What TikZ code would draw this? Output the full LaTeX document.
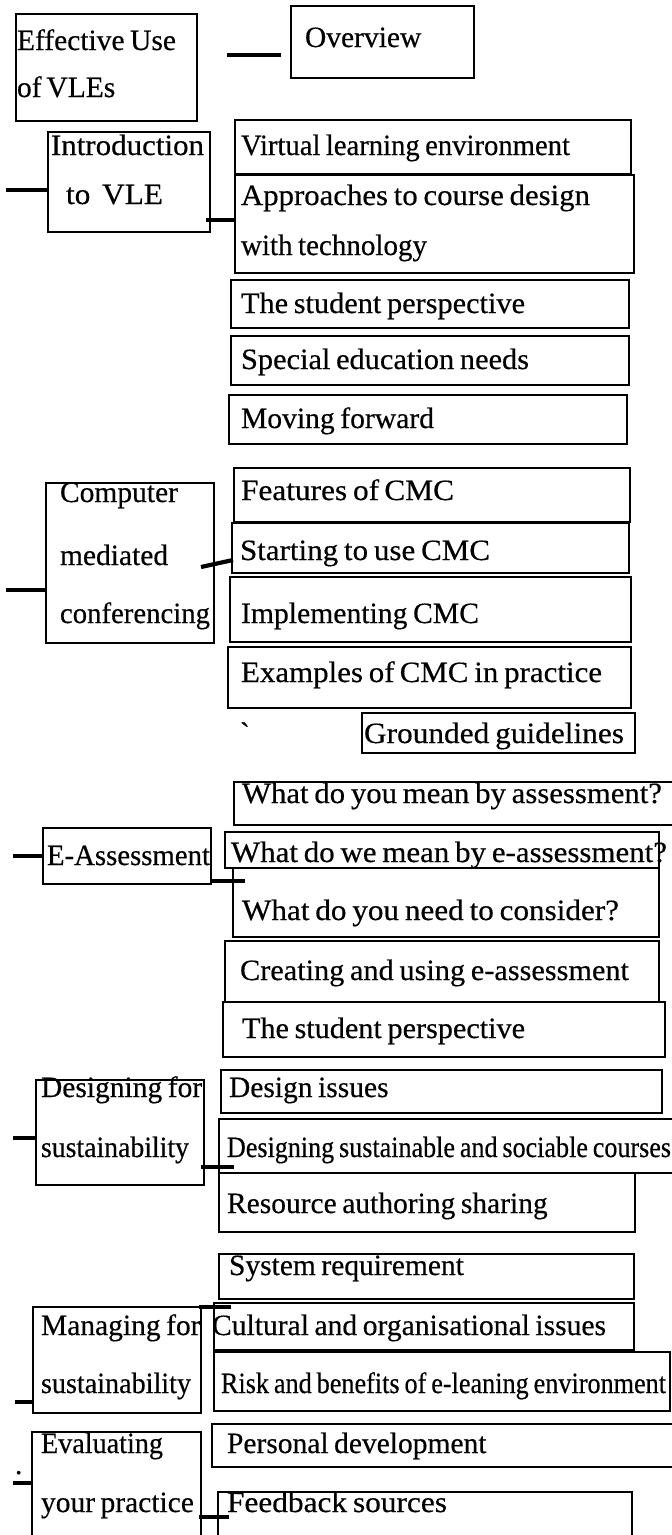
\documentclass[tikz,border=0pt]{standalone}
\usepackage{fontspec}
\usepackage{graphicx}
\setmainfont{Liberation Serif}[WordSpace=0.75,FakeBold=0.4]
\usetikzlibrary{fit}
\begin{document}
\begin{tikzpicture}[x=1pt,y=-1pt,
  box/.style={draw=black, line width=2.7pt, inner sep=0pt, outer sep=0pt},
  txt/.style={anchor=base west, inner sep=0pt, outer sep=0pt, font=\fontsize{29.5}{35}\selectfont},
  stub/.style={draw=black, line width=4.2pt}]
\useasboundingbox (0,0) rectangle (672,1535);
\fill[white] (0,0) rectangle (672,1535);
% box given by its corners: name, x1, y1, x2, y2
\newcommand\bx[5]{\node[box, fit={(#2,#3)(#4,#5)}] (#1) {};}
% text set to a given width, height kept
\newcommand\wtext[2]{\resizebox{#1pt}{\height}{#2}}

% ---- boxes ----
\bx{eff}{16}{14}{197}{121}
\bx{ovw}{291}{6}{474}{78}
\bx{intro}{48}{132}{210}{232}
\bx{vle}{235}{120}{631}{174}
\bx{appr}{235}{175}{634}{273}
\bx{studa}{231}{280}{629}{328}
\bx{sen}{231}{336}{629}{385}
\bx{move}{229}{395}{627}{444}
\bx{feat}{234}{468}{630}{522}
\bx{cmc}{46}{483}{214}{643}
\bx{start}{232}{523}{629}{573}
\bx{impl}{230}{577}{631}{642}
\bx{exam}{228}{647}{631}{708}
\bx{grnd}{362}{713}{635}{753}
\bx{wdyma}{234}{782}{674}{825}
\bx{eass}{43}{828}{211}{884}
\bx{wdwme}{225}{832}{659}{868}
\bx{need}{233}{868}{659}{937}
\bx{creat}{225}{941}{659}{1002}
\bx{studb}{223}{1002}{665}{1057}
\bx{dissue}{221}{1070}{662}{1113}
\bx{dfor}{36}{1080}{204}{1185}
\bx{dsust}{219}{1119}{674}{1173}
\bx{resrc}{219}{1173}{635}{1232}
\bx{sysreq}{219}{1254}{634}{1299}
\bx{mfor}{33}{1307}{201}{1413}
\bx{cult}{214}{1303}{634}{1350}
\bx{risk}{214}{1352}{670}{1411}
\bx{eval}{32}{1432}{201}{1545}
\bx{pers}{212}{1424}{675}{1467}
\bx{fback}{218}{1492}{632}{1545}

% ---- texts ----
\node[txt] (t-eff1) at (17,50) {Effective Use};
\node[txt] (t-eff2) at (17,97) {of\,VLEs};
\node[txt] (t-ovw) at (305,47) {Overview};
\node[txt] (t-intro1) at (51,155) {\wtext{153}{Introduction}};
\node[txt] (t-intro2) at (66,204) {\wtext{97}{to\ \ VLE}};
\node[txt] (t-vle) at (241,155) {\wtext{329}{Virtual learning environment}};
\node[txt] (t-appr1) at (241,205) {\wtext{349}{Approaches to course design}};
\node[txt] (t-appr2) at (241,255) {\wtext{186}{with technology}};
\node[txt] (t-studa) at (241,313) {\wtext{284}{The student perspective}};
\node[txt] (t-sen) at (241,369) {\wtext{288}{Special education needs}};
\node[txt] (t-move) at (241,428) {\wtext{193}{Moving forward}};
\node[txt] (t-feat) at (241,500) {\wtext{213}{Features of\,CMC}};
\node[txt] (t-cmc1) at (60,502) {Computer};
\node[txt] (t-cmc2) at (60,565) {mediated};
\node[txt] (t-cmc3) at (60,623) {\wtext{150}{conferencing}};
\node[txt] (t-start) at (240,560) {\wtext{250}{Starting to use CMC}};
\node[txt] (t-impl) at (241,623) {\wtext{238}{Implementing CMC}};
\node[txt] (t-exam) at (241,682) {\wtext{361}{Examples of\,CMC in practice}};
\node[txt] (t-tick) at (240,743) {\textasciigrave};
\node[txt] (t-grnd) at (364,743) {\wtext{260}{Grounded guidelines}};
\node[txt] (t-wdyma) at (242,803) {\wtext{420}{What do you mean by assessment?}};
\node[txt] (t-eass) at (47,865) {\wtext{163}{E-Assessment}};
\node[txt] (t-wdwme) at (231,862) {\wtext{436}{What do we mean by e-assessment?}};
\node[txt] (t-need) at (242,920) {\wtext{377}{What do you need to consider?}};
\node[txt] (t-creat) at (240,980) {\wtext{389}{Creating and using e-assessment}};
\node[txt] (t-studb) at (242,1038) {\wtext{283}{The student perspective}};
\node[txt] (t-dissue) at (229,1097) {Design issues};
\node[txt] (t-dfor1) at (41,1097) {Designing for};
\node[txt] (t-dfor2) at (41,1157) {\wtext{148}{sustainability}};
\node[txt] (t-dsust) at (227,1157) {\wtext{444}{Designing sustainable and sociable courses}};
\node[txt] (t-resrc) at (227,1213) {Resource authoring sharing};
\node[txt] (t-sysreq) at (229,1275) {System requirement};
\node[txt] (t-mfor1) at (41,1335) {Managing for};
\node[txt] (t-mfor2) at (41,1393) {\wtext{150}{sustainability}};
\node[txt] (t-cult) at (212,1335) {\wtext{394}{Cultural and organisational issues}};
\node[txt] (t-risk) at (221,1393) {\wtext{445}{Risk and benefits of e-leaning environment}};
\node[txt] (t-eval1) at (41,1453) {\wtext{122}{Evaluating}};
\node[txt] (t-eval2) at (41,1512) {your practice};
\node[txt] (t-dot) at (15,1474) {.};
\node[txt] (t-pers) at (227,1453) {Personal development};
\node[txt] (t-fback) at (227,1512) {\wtext{220}{Feedback sources}};

% ---- connector stubs ----
\coordinate (s-eff) at (227,55);  \coordinate (s-ovw) at (281,55);
\draw[stub] (s-eff) -- (s-ovw);
\coordinate (s-intro) at (6,190);
\draw[stub] (s-intro) -- (intro.west |- s-intro);
\coordinate (s-intro-r) at (206,220);
\draw[stub] (s-intro-r) -- (appr.west |- s-intro-r);
\coordinate (s-cmc) at (6,590);
\draw[stub] (s-cmc) -- (cmc.west |- s-cmc);
\coordinate (s-cmc-r) at (201,567); \coordinate (s-start) at (233,560);
\draw[stub] (s-cmc-r) -- (s-start);
\coordinate (s-eass) at (13,856);
\draw[stub] (s-eass) -- (eass.west |- s-eass);
\coordinate (s-eass-r) at (212,881); \coordinate (s-need) at (245,881);
\draw[stub] (s-eass-r) -- (s-need);
\coordinate (s-dfor) at (13,1138);
\draw[stub] (s-dfor) -- (dfor.west |- s-dfor);
\coordinate (s-dfor-r) at (201,1167); \coordinate (s-dsust) at (234,1167);
\draw[stub] (s-dfor-r) -- (s-dsust);
\coordinate (s-mfor-r) at (199,1307); \coordinate (s-cult) at (231,1307);
\draw[stub] (s-mfor-r) -- (s-cult);
\coordinate (s-mfor) at (15,1402);
\draw[stub] (s-mfor) -- (mfor.west |- s-mfor);
\coordinate (s-eval) at (13,1483);
\draw[stub] (s-eval) -- (eval.west |- s-eval);
\coordinate (s-eval-r) at (199,1517); \coordinate (s-fback) at (229,1517);
\draw[stub] (s-eval-r) -- (s-fback);
\end{tikzpicture}
\end{document}
